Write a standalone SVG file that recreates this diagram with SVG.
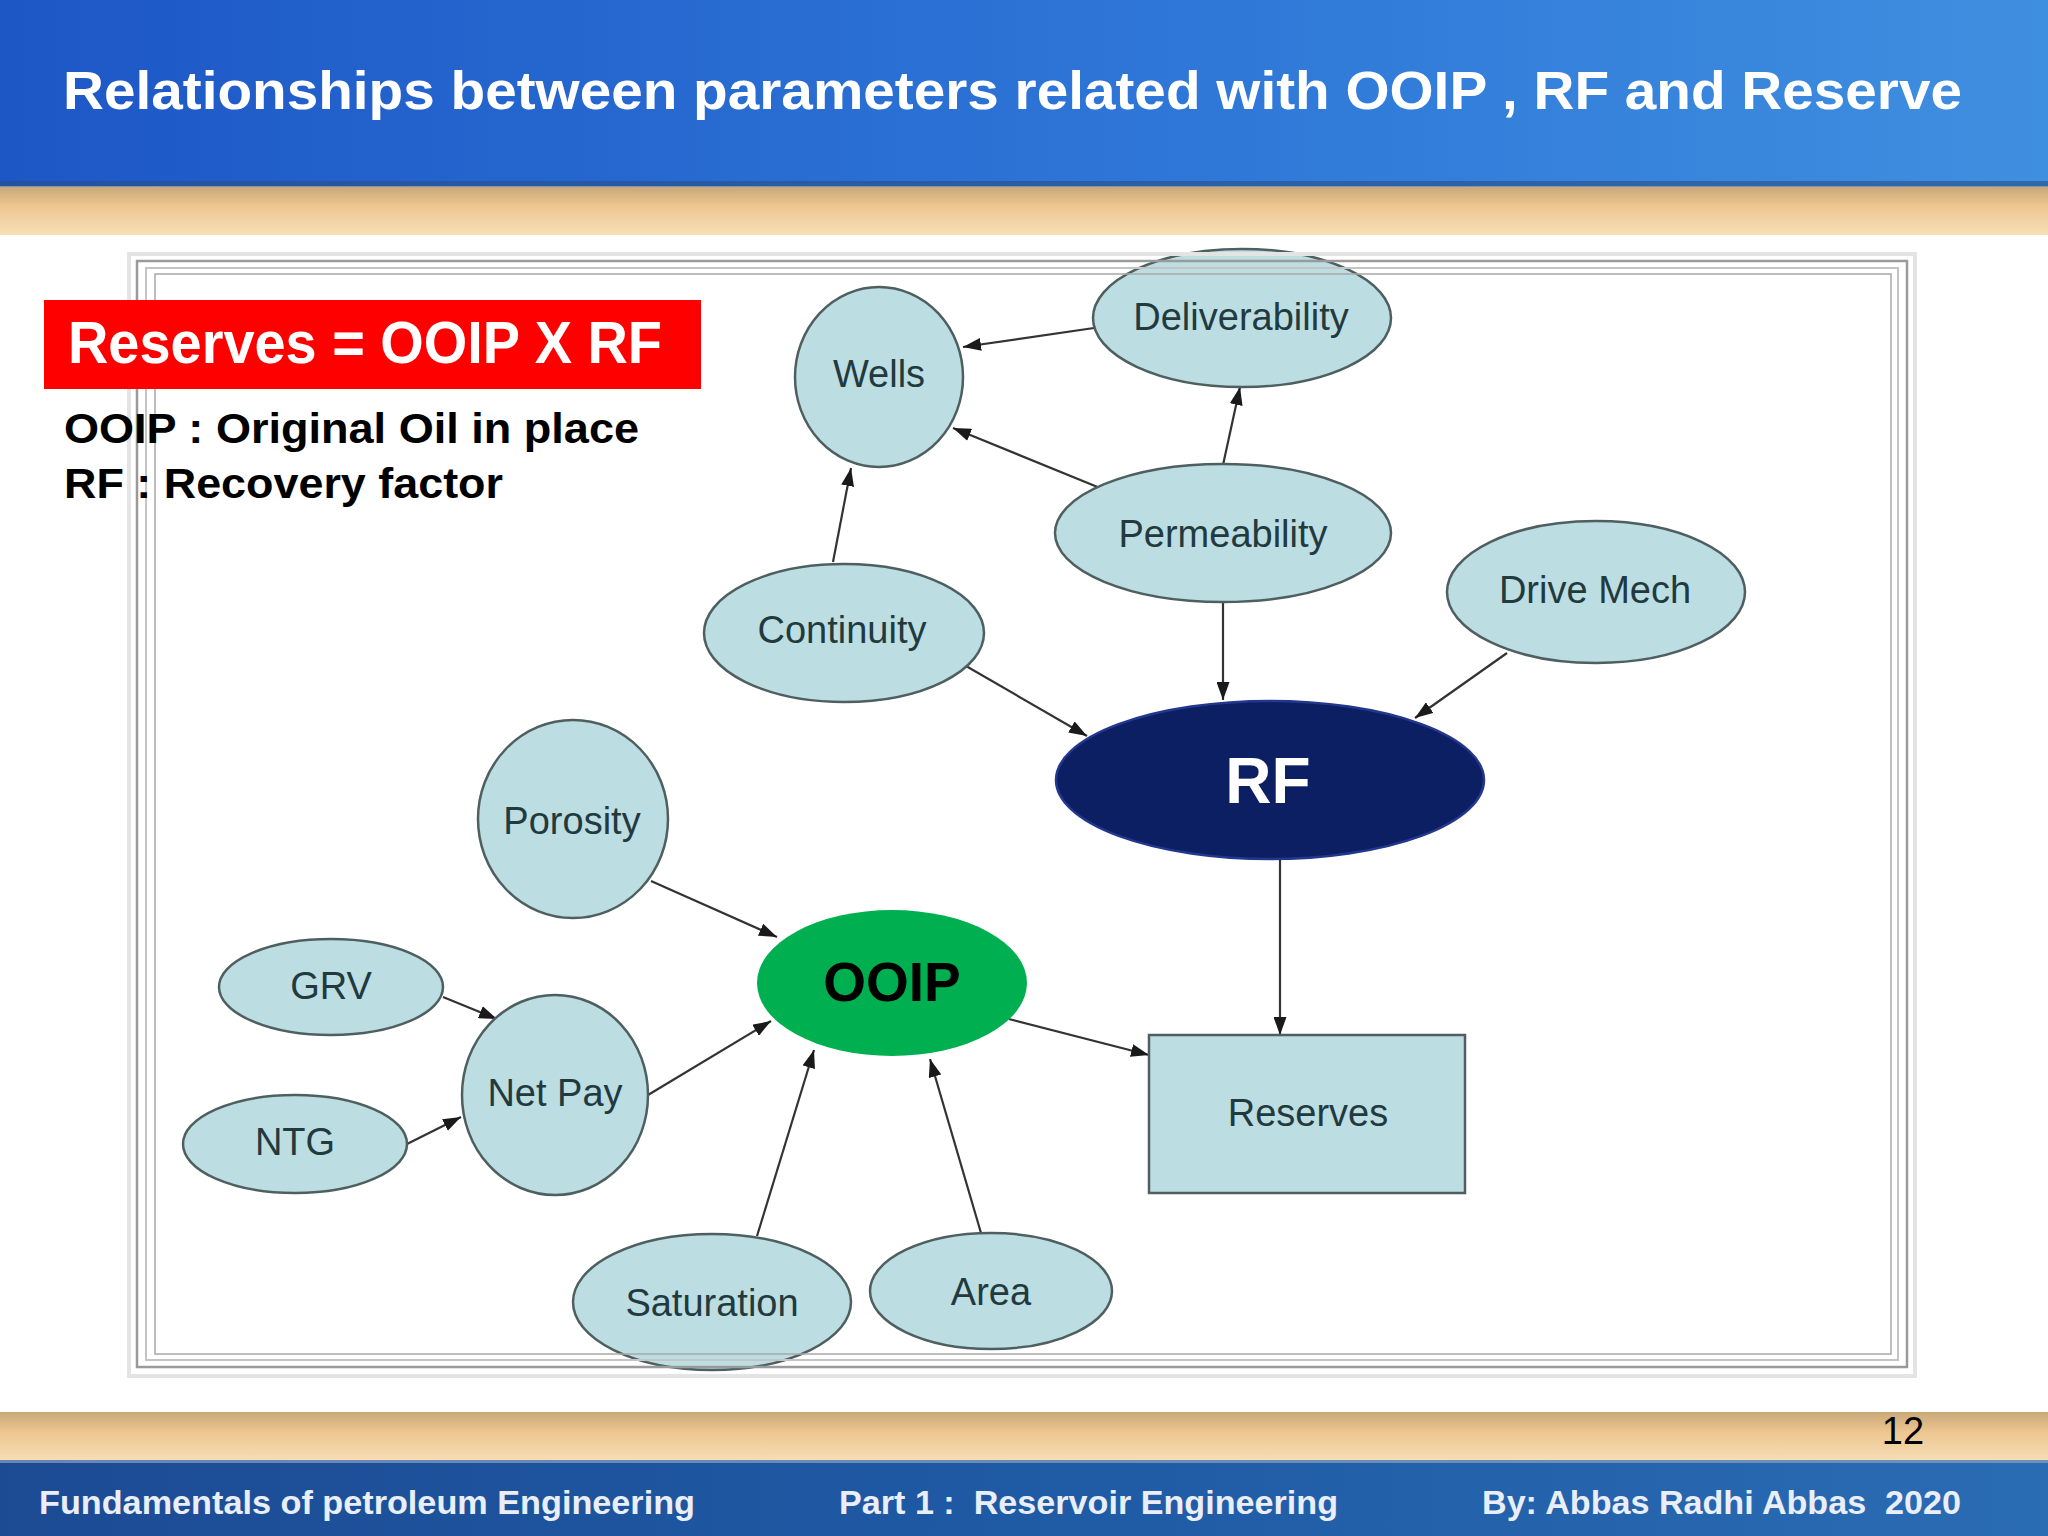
<svg xmlns="http://www.w3.org/2000/svg" width="2048" height="1536" viewBox="0 0 2048 1536">
<defs>
<linearGradient id="hdr" x1="0" y1="0" x2="1" y2="0">
<stop offset="0" stop-color="#1d57c6"/>
<stop offset="0.6" stop-color="#2f78d8"/>
<stop offset="1" stop-color="#3f8fe0"/>
</linearGradient>
<linearGradient id="tan" x1="0" y1="0" x2="0" y2="1">
<stop offset="0" stop-color="#c8a878"/>
<stop offset="0.4" stop-color="#eec690"/>
<stop offset="1" stop-color="#f6dfb8"/>
</linearGradient>
<linearGradient id="ftr" x1="0" y1="0" x2="1" y2="0">
<stop offset="0" stop-color="#1c4b94"/>
<stop offset="0.5" stop-color="#1f5aa4"/>
<stop offset="1" stop-color="#2a6cb4"/>
</linearGradient>
<marker id="ah" viewBox="0 0 18 13" refX="18" refY="6.5" markerWidth="18" markerHeight="13" markerUnits="userSpaceOnUse" orient="auto">
<path d="M0,0 L18,6.5 L0,13 Z" fill="#1a1a1a"/>
</marker>
<style>
.nd{fill:#bcdde2;stroke:#4f5f60;stroke-width:2.5}
.lb{font-family:"Liberation Sans",Arial,sans-serif;font-size:38px;fill:#223a3e;text-anchor:middle}
.cn{stroke:#333;stroke-width:2.2;fill:none;marker-end:url(#ah)}
.ft{font-family:"Liberation Sans",Arial,sans-serif;font-size:33px;font-weight:bold;fill:#e9eef8;white-space:pre}
</style>
</defs>
<rect width="2048" height="1536" fill="#ffffff"/>
<!-- header -->
<rect x="0" y="0" width="2048" height="186" fill="url(#hdr)"/>
<rect x="0" y="181" width="2048" height="6" fill="#2a4f86" opacity="0.6"/>
<rect x="0" y="187" width="2048" height="48" fill="url(#tan)"/>
<text x="63" y="109" font-family="Liberation Sans,Arial,sans-serif" font-size="54" font-weight="bold" fill="#ffffff" textLength="1899" lengthAdjust="spacingAndGlyphs">Relationships between parameters related with OOIP , RF and Reserve</text>
<!-- connectors -->
<g id="connectors">
<line class="cn" x1="1094" y1="328" x2="963" y2="347"/>
<line class="cn" x1="1100" y1="488" x2="953" y2="428"/>
<line class="cn" x1="1223" y1="465" x2="1240" y2="387"/>
<line class="cn" x1="833" y1="562" x2="851" y2="468"/>
<line class="cn" x1="1223" y1="603" x2="1223" y2="700"/>
<line class="cn" x1="966" y1="666" x2="1087" y2="736"/>
<line class="cn" x1="1507" y1="653" x2="1415" y2="718"/>
<line class="cn" x1="1280" y1="859" x2="1280" y2="1035"/>
<line class="cn" x1="1009" y1="1019" x2="1149" y2="1055"/>
<line class="cn" x1="651" y1="881" x2="777" y2="937"/>
<line class="cn" x1="443" y1="997" x2="497" y2="1019"/>
<line class="cn" x1="407" y1="1144" x2="461" y2="1117"/>
<line class="cn" x1="648" y1="1095" x2="771" y2="1021"/>
<line class="cn" x1="757" y1="1236" x2="814" y2="1050"/>
<line class="cn" x1="981" y1="1233" x2="930" y2="1059"/>
</g>
<!-- nodes -->
<g id="wells"><ellipse class="nd" cx="879" cy="377" rx="84" ry="90"/><text class="lb" x="879" y="387">Wells</text></g>
<g id="deliverability"><ellipse class="nd" cx="1242" cy="318" rx="149" ry="69"/><text class="lb" x="1241" y="330">Deliverability</text></g>
<g id="permeability"><ellipse class="nd" cx="1223" cy="533" rx="168" ry="69"/><text class="lb" x="1223" y="547">Permeability</text></g>
<g id="drivemech"><ellipse class="nd" cx="1596" cy="592" rx="149" ry="71"/><text class="lb" x="1595" y="603">Drive Mech</text></g>
<g id="continuity"><ellipse class="nd" cx="844" cy="633" rx="140" ry="69"/><text class="lb" x="842" y="643">Continuity</text></g>
<g id="rf"><ellipse cx="1270" cy="780" rx="214" ry="79" fill="#0b1f62" stroke="#24378f" stroke-width="2.5"/><text x="1268" y="803" font-family="Liberation Sans,Arial,sans-serif" font-size="64" font-weight="bold" fill="#ffffff" text-anchor="middle">RF</text></g>
<g id="porosity"><ellipse class="nd" cx="573" cy="819" rx="95" ry="99"/><text class="lb" x="572" y="834">Porosity</text></g>
<g id="ooip"><ellipse cx="892" cy="983" rx="135" ry="73" fill="#00b050"/><text x="892" y="1001" font-family="Liberation Sans,Arial,sans-serif" font-size="55" font-weight="bold" fill="#000000" text-anchor="middle">OOIP</text></g>
<g id="grv"><ellipse class="nd" cx="331" cy="987" rx="112" ry="48"/><text class="lb" x="331" y="999">GRV</text></g>
<g id="netpay"><ellipse class="nd" cx="555" cy="1095" rx="93" ry="100"/><text class="lb" x="555" y="1106">Net Pay</text></g>
<g id="ntg"><ellipse class="nd" cx="295" cy="1144" rx="112" ry="49"/><text class="lb" x="295" y="1155">NTG</text></g>
<g id="reserves"><rect class="nd" x="1149" y="1035" width="316" height="158"/><text class="lb" x="1308" y="1126">Reserves</text></g>
<g id="saturation"><ellipse class="nd" cx="712" cy="1302" rx="139" ry="68"/><text class="lb" x="712" y="1316">Saturation</text></g>
<g id="area"><ellipse class="nd" cx="991" cy="1291" rx="121" ry="58"/><text class="lb" x="991" y="1305">Area</text></g>
<!-- frame (drawn over the node edges, as in the picture) -->
<g fill="none">
<rect x="129" y="254" width="1786" height="1122" stroke="#e4e4e4" stroke-width="4"/>
<rect x="137" y="261" width="1770" height="1106" stroke="#9a9a9a" stroke-width="2.5"/>
<rect x="146" y="268" width="1752" height="1092" stroke="#c4c4c4" stroke-width="2"/>
<rect x="155" y="274" width="1736" height="1080" stroke="#a8a8a8" stroke-width="1.5"/>
</g>
<!-- legend -->
<rect x="44" y="300" width="657" height="89" fill="#ff0000"/>
<text x="68" y="363" font-family="Liberation Sans,Arial,sans-serif" font-size="60" font-weight="bold" fill="#ffffff" textLength="594" lengthAdjust="spacingAndGlyphs">Reserves = OOIP X RF</text>
<text x="64" y="443" font-family="Liberation Sans,Arial,sans-serif" font-size="43" font-weight="bold" fill="#000000" textLength="575" lengthAdjust="spacingAndGlyphs">OOIP : Original Oil in place</text>
<text x="64" y="498" font-family="Liberation Sans,Arial,sans-serif" font-size="43" font-weight="bold" fill="#000000" textLength="439" lengthAdjust="spacingAndGlyphs">RF : Recovery factor</text>
<!-- footer -->
<rect x="0" y="1412" width="2048" height="50" fill="url(#tan)"/>
<rect x="0" y="1460" width="2048" height="76" fill="url(#ftr)"/>
<rect x="0" y="1460" width="2048" height="3" fill="#8aa0c0" opacity="0.7"/>
<text x="1903" y="1444" font-family="Liberation Sans,Arial,sans-serif" font-size="38" fill="#000000" text-anchor="middle">12</text>
<text class="ft" x="39" y="1514" textLength="656" lengthAdjust="spacingAndGlyphs">Fundamentals of petroleum Engineering</text>
<text class="ft" x="839" y="1514" textLength="499" lengthAdjust="spacingAndGlyphs">Part 1 :  Reservoir Engineering</text>
<text class="ft" x="1482" y="1514" textLength="479" lengthAdjust="spacingAndGlyphs">By: Abbas Radhi Abbas  2020</text>
</svg>
